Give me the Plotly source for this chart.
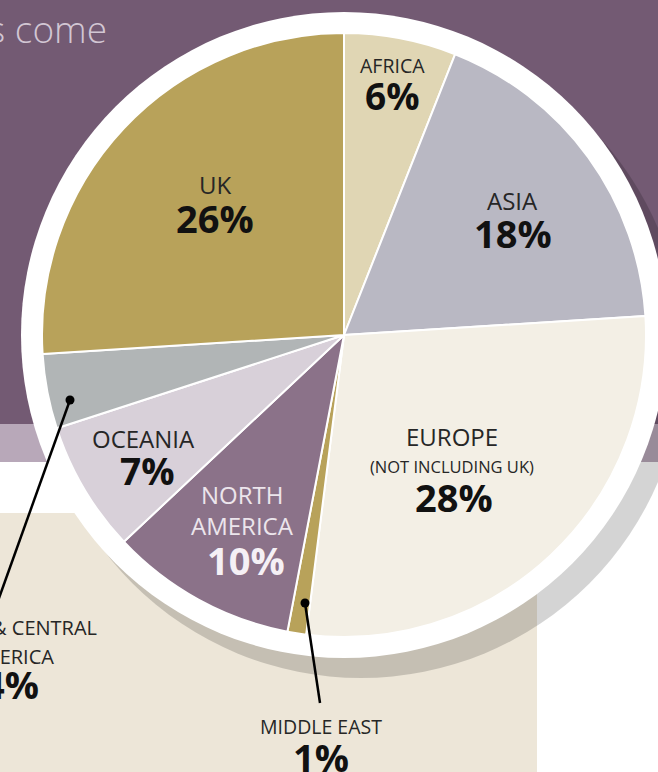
import plotly.graph_objects as go

# ---------------- data ----------------
regions = ["AFRICA", "ASIA", "EUROPE", "MIDDLE EAST", "NORTH AMERICA",
           "OCEANIA", "SOUTH & CENTRAL AMERICA", "UK"]
shares = [6, 18, 28, 1, 10, 7, 4, 26]
slice_colors = ["#e0d6b4", "#b9b8c3", "#f3efe5", "#b8a25a", "#8b7289",
                "#d8d0d9", "#b1b5b6", "#b8a25a"]
title_text = "s come"

# ---------------- layout helpers ----------------
W, H = 658, 772
def px(x):
    return x / W
def py(y):
    return 1 - y / H

CX, CY, R = 344, 335, 302       # pie centre / radius (pixels)
RING = 323                      # white ring radius
SHX, SHY = 17, 20               # shadow offset

FONT = "Open Sans"
LABEL_COL = "#262626"
PCT_COL = "#111111"

fig = go.Figure()
fig.add_trace(go.Pie(
    labels=regions, values=shares, sort=False, direction="clockwise",
    rotation=0, textinfo="none", hoverinfo="label+percent",
    marker=dict(colors=slice_colors, line=dict(color="white", width=2)),
    domain=dict(x=[px(CX - R), px(CX + R)], y=[py(CY + R), py(CY - R)]),
    showlegend=False,
))

shapes = [
    dict(type="rect", xref="paper", yref="paper", x0=0, x1=1, y0=py(424), y1=1,
         fillcolor="#735a73", line=dict(width=0), layer="below"),
    dict(type="rect", xref="paper", yref="paper", x0=0, x1=1, y0=py(462), y1=py(424),
         fillcolor="#b8a8b9", line=dict(width=0), layer="below"),
    dict(type="rect", xref="paper", yref="paper", x0=0, x1=px(537), y0=0, y1=py(513),
         fillcolor="#ede6d8", line=dict(width=0), layer="below"),
    dict(type="circle", xref="paper", yref="paper",
         x0=px(CX + SHX - RING), x1=px(CX + SHX + RING),
         y0=py(CY + SHY + RING), y1=py(CY + SHY - RING),
         fillcolor="rgba(0,0,0,0.17)", line=dict(width=0), layer="below"),
    dict(type="circle", xref="paper", yref="paper",
         x0=px(CX - RING), x1=px(CX + RING), y0=py(CY + RING), y1=py(CY - RING),
         fillcolor="white", line=dict(width=0), layer="below"),
    # leader lines
    dict(type="line", xref="paper", yref="paper", x0=px(70), y0=py(400),
         x1=px(-6), y1=py(612), line=dict(color="black", width=2.5), layer="above"),
    dict(type="line", xref="paper", yref="paper", x0=px(305), y0=py(603),
         x1=px(320), y1=py(703), line=dict(color="black", width=2.5), layer="above"),
]
for (dx, dy) in [(70, 400), (305, 603)]:
    shapes.append(dict(type="circle", xref="paper", yref="paper",
                       x0=px(dx - 4.5), x1=px(dx + 4.5), y0=py(dy + 4.5), y1=py(dy - 4.5),
                       fillcolor="black", line=dict(width=0), layer="above"))

ann = []
def add(text, x, y, size, color, bold=False, xanchor="center"):
    ann.append(dict(text=(f"<b>{text}</b>" if bold else text), xref="paper", yref="paper",
                    x=px(x), y=py(y), xanchor=xanchor, yanchor="middle", showarrow=False,
                    font=dict(family=FONT, size=size, color=color)))

pct = {r: f"{v}%" for r, v in zip(regions, shares)}

# title fragment
ann.append(dict(text=title_text, xref="paper", yref="paper", x=px(109), y=py(28),
                xanchor="right", yanchor="middle", showarrow=False,
                font=dict(family="Open Sans Light, Open Sans", size=37, color="#d2c6d3")))

add("AFRICA", 392, 66, 19.5, LABEL_COL)
add(pct["AFRICA"], 392, 95, 37, PCT_COL, True)
add("ASIA", 512, 200, 24, LABEL_COL)
add(pct["ASIA"], 513, 233, 38, PCT_COL, True)
add("UK", 215, 185, 24, LABEL_COL)
add(pct["UK"], 215, 218, 38, PCT_COL, True)
add("EUROPE", 452, 436, 24, LABEL_COL)
add("(NOT INCLUDING UK)", 452, 466, 16.5, LABEL_COL)
add(pct["EUROPE"], 454, 497, 38, PCT_COL, True)
add("OCEANIA", 143, 438, 24, LABEL_COL)
add(pct["OCEANIA"], 147, 470, 37, PCT_COL, True)
add("NORTH", 242, 494, 24, "#ece5ec")
add("AMERICA", 242, 525, 24, "#ece5ec")
add(pct["NORTH AMERICA"], 246, 560, 38, "#f5f0f5", True)
add("SOUTH &amp; CENTRAL", 99, 627, 20, LABEL_COL, xanchor="right")
add("AMERICA", 56, 656, 20, LABEL_COL, xanchor="right")
add(pct["SOUTH & CENTRAL AMERICA"], 41, 684, 38, PCT_COL, True, xanchor="right")
add("MIDDLE EAST", 321, 726, 19.5, LABEL_COL)
add(pct["MIDDLE EAST"], 321, 757, 38, PCT_COL, True)

fig.update_layout(
    width=W, height=H, margin=dict(l=0, r=0, t=0, b=0),
    paper_bgcolor="white", plot_bgcolor="white",
    shapes=shapes, annotations=ann,
)
fig.write_html("out.html", config={"displayModeBar": False},
               post_script="document.body.style.margin='0';document.body.style.overflow='hidden';")
